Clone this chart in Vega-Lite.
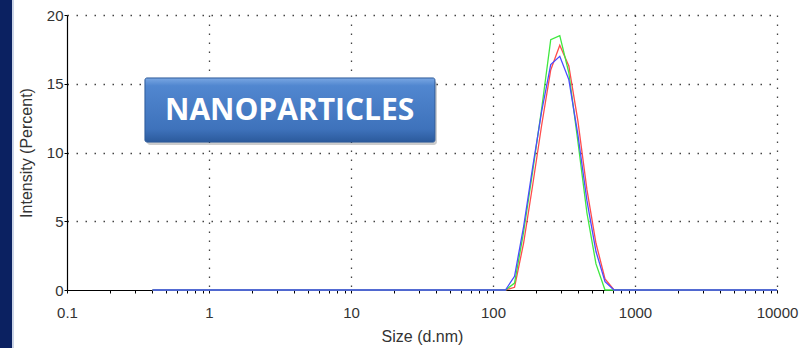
{
  "$schema": "https://vega.github.io/schema/vega-lite/v6.json",
  "width": 710,
  "height": 275,
  "autosize": {"type": "none"},
  "padding": {"left": 67, "top": 15, "right": 30, "bottom": 58},
  "background": "white",
  "config": {
    "view": {"stroke": null},
    "axis": {
      "domainColor": "#000000",
      "domainWidth": 1.2,
      "tickColor": "#000000",
      "tickSize": 3,
      "labelFlush": false,
      "labelOverlap": false,
      "labelFont": "Liberation Sans",
      "labelFontSize": 15,
      "labelColor": "#333333",
      "titleFont": "Liberation Sans",
      "titleFontSize": 16,
      "titleFontWeight": "normal",
      "titleColor": "#333333",
      "gridColor": "#444444",
      "gridDash": [1.5, 7.5],
      "gridWidth": 1.3
    }
  },
  "datasets": {
    "psd": [
      {"size": 0.4, "red": 0, "green": 0, "blue": 0},
      {"size": 0.4632, "red": 0, "green": 0, "blue": 0},
      {"size": 0.5365, "red": 0, "green": 0, "blue": 0},
      {"size": 0.6213, "red": 0, "green": 0, "blue": 0},
      {"size": 0.7195, "red": 0, "green": 0, "blue": 0},
      {"size": 0.8332, "red": 0, "green": 0, "blue": 0},
      {"size": 0.9649, "red": 0, "green": 0, "blue": 0},
      {"size": 1.117, "red": 0, "green": 0, "blue": 0},
      {"size": 1.294, "red": 0, "green": 0, "blue": 0},
      {"size": 1.499, "red": 0, "green": 0, "blue": 0},
      {"size": 1.736, "red": 0, "green": 0, "blue": 0},
      {"size": 2.01, "red": 0, "green": 0, "blue": 0},
      {"size": 2.328, "red": 0, "green": 0, "blue": 0},
      {"size": 2.696, "red": 0, "green": 0, "blue": 0},
      {"size": 3.122, "red": 0, "green": 0, "blue": 0},
      {"size": 3.615, "red": 0, "green": 0, "blue": 0},
      {"size": 4.187, "red": 0, "green": 0, "blue": 0},
      {"size": 4.849, "red": 0, "green": 0, "blue": 0},
      {"size": 5.615, "red": 0, "green": 0, "blue": 0},
      {"size": 6.503, "red": 0, "green": 0, "blue": 0},
      {"size": 7.531, "red": 0, "green": 0, "blue": 0},
      {"size": 8.721, "red": 0, "green": 0, "blue": 0},
      {"size": 10.1, "red": 0, "green": 0, "blue": 0},
      {"size": 11.7, "red": 0, "green": 0, "blue": 0},
      {"size": 13.54, "red": 0, "green": 0, "blue": 0},
      {"size": 15.69, "red": 0, "green": 0, "blue": 0},
      {"size": 18.17, "red": 0, "green": 0, "blue": 0},
      {"size": 21.04, "red": 0, "green": 0, "blue": 0},
      {"size": 24.36, "red": 0, "green": 0, "blue": 0},
      {"size": 28.21, "red": 0, "green": 0, "blue": 0},
      {"size": 32.67, "red": 0, "green": 0, "blue": 0},
      {"size": 37.84, "red": 0, "green": 0, "blue": 0},
      {"size": 43.82, "red": 0, "green": 0, "blue": 0},
      {"size": 50.75, "red": 0, "green": 0, "blue": 0},
      {"size": 58.77, "red": 0, "green": 0, "blue": 0},
      {"size": 68.06, "red": 0, "green": 0, "blue": 0},
      {"size": 78.82, "red": 0, "green": 0, "blue": 0},
      {"size": 91.28, "red": 0, "green": 0, "blue": 0},
      {"size": 105.7, "red": 0, "green": 0, "blue": 0},
      {"size": 122.4, "red": 0, "green": 0, "blue": 0},
      {"size": 141.8, "red": 0.2, "green": 0.5, "blue": 1.0},
      {"size": 164.2, "red": 3.4, "green": 4.2, "blue": 4.6},
      {"size": 190.1, "red": 7.6, "green": 8.6, "blue": 8.9},
      {"size": 220.2, "red": 12.0, "green": 13.2, "blue": 13.0},
      {"size": 255.0, "red": 16.0, "green": 18.2, "blue": 16.4},
      {"size": 295.3, "red": 17.8, "green": 18.5, "blue": 17.0},
      {"size": 342.0, "red": 16.3, "green": 15.8, "blue": 15.3},
      {"size": 396.1, "red": 12.3, "green": 10.8, "blue": 11.3},
      {"size": 458.7, "red": 7.3, "green": 5.6, "blue": 6.5},
      {"size": 531.2, "red": 3.4, "green": 1.9, "blue": 2.8},
      {"size": 615.1, "red": 0.8, "green": 0.0, "blue": 0.6},
      {"size": 712.4, "red": 0, "green": 0, "blue": 0},
      {"size": 825.0, "red": 0, "green": 0, "blue": 0},
      {"size": 955.4, "red": 0, "green": 0, "blue": 0},
      {"size": 1106, "red": 0, "green": 0, "blue": 0},
      {"size": 1281, "red": 0, "green": 0, "blue": 0},
      {"size": 1484, "red": 0, "green": 0, "blue": 0},
      {"size": 1718, "red": 0, "green": 0, "blue": 0},
      {"size": 1990, "red": 0, "green": 0, "blue": 0},
      {"size": 2305, "red": 0, "green": 0, "blue": 0},
      {"size": 2669, "red": 0, "green": 0, "blue": 0},
      {"size": 3091, "red": 0, "green": 0, "blue": 0},
      {"size": 3580, "red": 0, "green": 0, "blue": 0},
      {"size": 4145, "red": 0, "green": 0, "blue": 0},
      {"size": 4801, "red": 0, "green": 0, "blue": 0},
      {"size": 5560, "red": 0, "green": 0, "blue": 0},
      {"size": 6439, "red": 0, "green": 0, "blue": 0},
      {"size": 7456, "red": 0, "green": 0, "blue": 0},
      {"size": 8635, "red": 0, "green": 0, "blue": 0},
      {"size": 10000, "red": 0, "green": 0, "blue": 0}
    ]
  },
  "layer": [
    {
      "data": {"name": "psd"},
      "transform": [{"fold": ["red", "green", "blue"], "as": ["run", "intensity"]}],
      "mark": {"type": "line", "strokeWidth": 1.3, "interpolate": "linear"},
      "encoding": {
        "x": {
          "field": "size",
          "type": "quantitative",
          "scale": {"type": "log", "domain": [0.1, 10000]},
          "axis": {
            "title": "Size (d.nm)",
            "values": [0.1, 0.2, 0.3, 0.4, 0.5, 0.6, 0.7, 0.8, 0.9, 1, 2, 3, 4, 5, 6, 7, 8, 9, 10, 20, 30, 40, 50, 60, 70, 80, 90, 100, 200, 300, 400, 500, 600, 700, 800, 900, 1000, 2000, 3000, 4000, 5000, 6000, 7000, 8000, 9000, 10000],
            "format": "~g",
            "labelExpr": "abs(log(datum.value)/LN10 - round(log(datum.value)/LN10)) < 0.001 ? datum.label : ''",
            "labelPadding": 12,
            "titlePadding": 8,
            "gridOpacity": {"condition": {"test": "datum.value > 0.5 && abs(log(datum.value)/LN10 - round(log(datum.value)/LN10)) < 0.001", "value": 1}, "value": 0}
          }
        },
        "y": {
          "field": "intensity",
          "type": "quantitative",
          "scale": {"domain": [0, 20], "nice": false},
          "axis": {
            "title": "Intensity (Percent)",
            "values": [0, 2.5, 5, 7.5, 10, 12.5, 15, 17.5, 20],
            "labelExpr": "datum.value % 5 === 0 ? datum.label : ''",
            "labelPadding": 1,
            "titlePadding": 12,
            "gridOpacity": {"condition": {"test": "datum.value % 5 === 0 && datum.value > 0", "value": 1}, "value": 0}
          }
        },
        "color": {
          "field": "run",
          "type": "nominal",
          "scale": {"domain": ["red", "green", "blue"], "range": ["#ff4c4c", "#3fe83f", "#4b4bff"]},
          "legend": null
        }
      }
    },
    {
      "data": {"values": [{"part": "band"}]},
      "mark": {"type": "rect", "color": "#0b2161"},
      "encoding": {
        "x": {"datum": 0.03, "type": "quantitative"},
        "x2": {"datum": 0.041},
        "y": {"datum": 22, "type": "quantitative"},
        "y2": {"datum": -5}
      }
    },
    {
      "data": {"values": [{"part": "strip"}]},
      "mark": {"type": "rect", "color": "#c9d3e6"},
      "encoding": {
        "x": {"datum": 0.041, "type": "quantitative"},
        "x2": {"datum": 0.0423},
        "y": {"datum": 22, "type": "quantitative"},
        "y2": {"datum": -5}
      }
    },
    {
      "data": {"values": [{"label": "NANOPARTICLES"}]},
      "mark": {"type": "rect", "color": "#000000", "opacity": 0.2, "cornerRadius": 3, "xOffset": 2, "x2Offset": 2, "yOffset": 3, "y2Offset": 3},
      "encoding": {
        "x": {"datum": 0.354, "type": "quantitative"},
        "x2": {"datum": 39.0},
        "y": {"datum": 15.42, "type": "quantitative"},
        "y2": {"datum": 10.76}
      }
    },
    {
      "data": {"values": [{"label": "NANOPARTICLES"}]},
      "mark": {
        "type": "rect",
        "cornerRadius": 2,
        "stroke": "#2d5a9a",
        "strokeWidth": 1,
        "fill": {
          "gradient": "linear", "x1": 0, "y1": 0, "x2": 0, "y2": 1,
          "stops": [
            {"offset": 0, "color": "#7aa7e3"},
            {"offset": 0.12, "color": "#5187d0"},
            {"offset": 0.8, "color": "#3e72bb"},
            {"offset": 1, "color": "#2b5a9c"}
          ]
        }
      },
      "encoding": {
        "x": {"datum": 0.354, "type": "quantitative"},
        "x2": {"datum": 39.0},
        "y": {"datum": 15.42, "type": "quantitative"},
        "y2": {"datum": 10.76}
      }
    },
    {
      "data": {"values": [{"label": "NANOPARTICLES"}]},
      "mark": {"type": "text", "font": "Open Sans", "fontWeight": "bold", "fontSize": 30, "color": "#ffffff", "align": "center", "baseline": "middle"},
      "encoding": {
        "x": {"datum": 3.7, "type": "quantitative"},
        "y": {"datum": 13.0, "type": "quantitative"},
        "text": {"field": "label"}
      }
    }
  ]
}
